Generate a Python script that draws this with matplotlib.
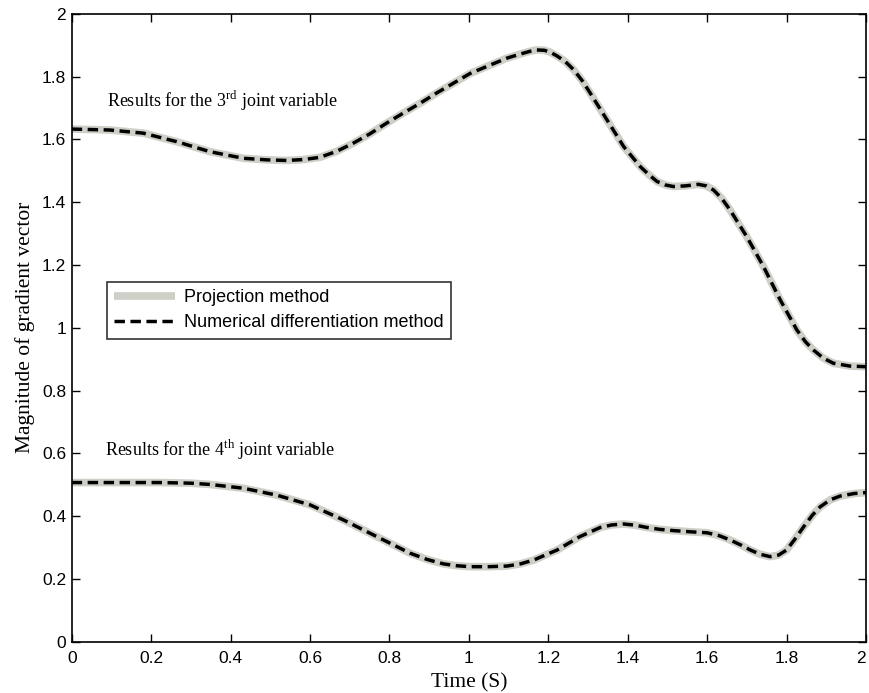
import matplotlib
matplotlib.use('Agg')
import matplotlib.pyplot as plt
from matplotlib.ticker import FormatStrFormatter

plt.rcParams['font.family'] = ['Liberation Sans', 'DejaVu Sans']
plt.rcParams['mathtext.fontset'] = 'custom'
plt.rcParams['mathtext.rm'] = 'Liberation Serif'

# 3rd joint variable
t3 = [0.0, 0.096, 0.18, 0.264, 0.348, 0.432, 0.49, 0.541, 0.585, 0.625, 0.667, 0.709,
      0.751, 0.793, 0.835, 0.877, 0.919, 0.961, 1.003, 1.05, 1.096, 1.135, 1.155, 1.171,
      1.19, 1.205, 1.222, 1.243, 1.264, 1.285, 1.306, 1.348, 1.39, 1.432, 1.455, 1.474,
      1.495, 1.515, 1.545, 1.578, 1.598, 1.616, 1.637, 1.658, 1.70, 1.742, 1.784, 1.826,
      1.848, 1.868, 1.893, 1.918, 1.96, 2.0]
g3 = [1.633, 1.630, 1.620, 1.593, 1.561, 1.540, 1.535, 1.533, 1.536, 1.543, 1.562, 1.588,
      1.618, 1.652, 1.684, 1.715, 1.748, 1.779, 1.810, 1.835, 1.859, 1.874, 1.881, 1.885,
      1.884, 1.878, 1.866, 1.848, 1.822, 1.788, 1.747, 1.662, 1.577, 1.513, 1.486, 1.466,
      1.455, 1.450, 1.452, 1.457, 1.452, 1.439, 1.412, 1.375, 1.290, 1.195, 1.089, 0.993,
      0.955, 0.929, 0.903, 0.887, 0.878, 0.876]

# 4th joint variable
t4 = [0.0, 0.1, 0.222, 0.30, 0.348, 0.432, 0.516, 0.60, 0.684, 0.768, 0.852, 0.895, 0.936,
      0.97, 1.003, 1.05, 1.096, 1.13, 1.163, 1.222, 1.28, 1.331, 1.36, 1.39, 1.42, 1.448,
      1.48, 1.515, 1.56, 1.60, 1.63, 1.658, 1.685, 1.709, 1.735, 1.759, 1.78, 1.80, 1.82,
      1.843, 1.865, 1.885, 1.91, 1.935, 1.97, 2.0]
g4 = [0.507, 0.507, 0.507, 0.505, 0.501, 0.489, 0.467, 0.436, 0.388, 0.335, 0.282, 0.262, 0.248,
      0.242, 0.239, 0.239, 0.241, 0.248, 0.260, 0.292, 0.335, 0.364, 0.372, 0.375, 0.371, 0.364,
      0.358, 0.354, 0.350, 0.347, 0.338, 0.324, 0.308, 0.292, 0.278, 0.271, 0.276, 0.292, 0.325,
      0.366, 0.403, 0.430, 0.452, 0.464, 0.472, 0.475]

fig = plt.figure(figsize=(8.69, 6.93), dpi=100)
ax = fig.add_axes([0.0825, 0.074, 0.914, 0.906])

grey = '#cfcfc8'
ax.plot(t3, g3, color=grey, lw=5.5, solid_capstyle='butt', solid_joinstyle='round',
        label='Projection method')
ax.plot(t3, g3, color='black', lw=2.5, ls=(0, (3, 1.6)), label='Numerical differentiation method')
ax.plot(t4, g4, color=grey, lw=5.5, solid_capstyle='butt', solid_joinstyle='round')
ax.plot(t4, g4, color='black', lw=2.5, ls=(0, (3, 1.6)))

ax.set_xlim(0, 2)
ax.set_ylim(0, 2)
ax.set_xticks([0, 0.2, 0.4, 0.6, 0.8, 1, 1.2, 1.4, 1.6, 1.8, 2])
ax.set_yticks([0, 0.2, 0.4, 0.6, 0.8, 1, 1.2, 1.4, 1.6, 1.8, 2])
ax.xaxis.set_major_formatter(FormatStrFormatter('%g'))
ax.yaxis.set_major_formatter(FormatStrFormatter('%g'))
ax.tick_params(direction='in', length=6, width=1, top=True, right=True, labelsize=12.5)
ax.tick_params(axis='x', pad=7)
ax.tick_params(axis='y', pad=4)
for s in ax.spines.values():
    s.set_linewidth(1.2)
# last x label sits at the figure edge; keep it inside
fig.canvas.draw()
ax.get_xticklabels()[-1].set_horizontalalignment('right')

ax.set_xlabel('Time (S)', fontsize=15.5, family='Liberation Serif', labelpad=5)
ax.set_ylabel('Magnitude of gradient vector', fontsize=15.5, family='Liberation Serif', labelpad=5)

ax.text(0.09, 1.722, r'Results for the 3$^{\mathrm{rd}}$ joint variable', fontsize=13,
        family='Liberation Serif', va='center')
ax.text(0.085, 0.612, r'Results for the 4$^{\mathrm{th}}$ joint variable', fontsize=13,
        family='Liberation Serif', va='center')

leg = ax.legend(loc='upper left', bbox_to_anchor=(0.044, 0.573), fontsize=13, frameon=True,
                fancybox=False, edgecolor='black', handlelength=3.4, borderpad=0.4,
                labelspacing=0.45, handletextpad=0.5, borderaxespad=0, handleheight=0.7)
leg.get_frame().set_linewidth(1.2)

fig.savefig('out.png', dpi=100)
